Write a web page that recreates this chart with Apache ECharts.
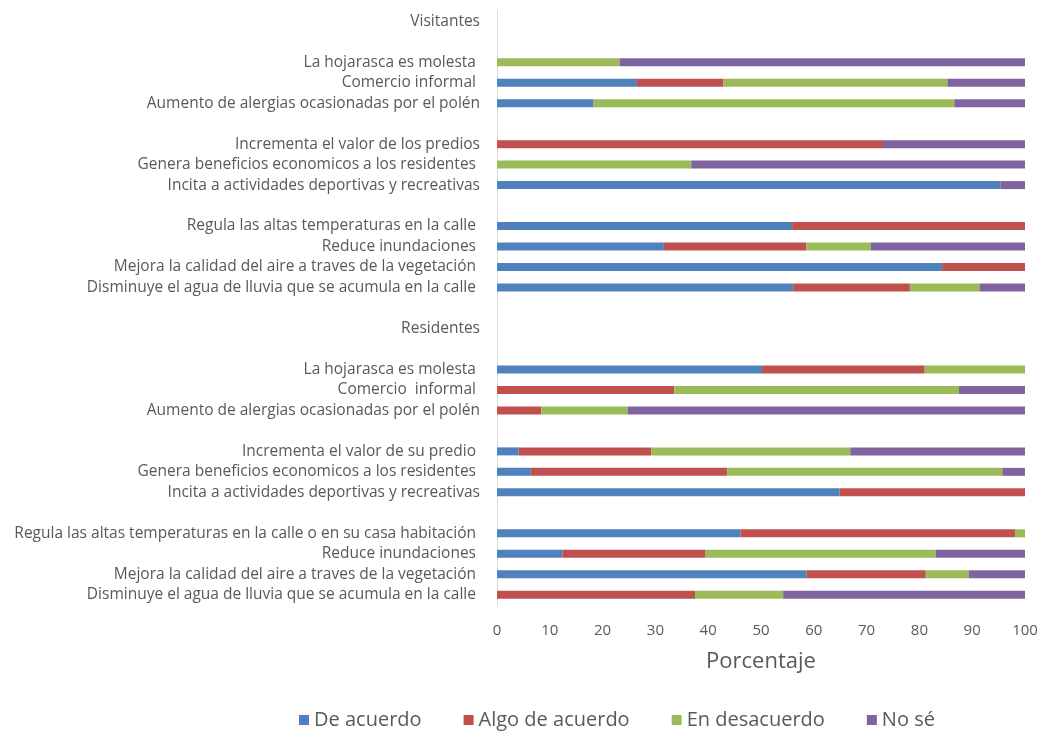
<!DOCTYPE html>
<html><head><meta charset="utf-8">
<script src="https://cdn.jsdelivr.net/npm/echarts@6/dist/echarts.min.js"></script>
<style>html,body{margin:0;padding:0;background:#fff}#c{width:1061px;height:732px}</style>
</head><body><div id="c"></div>
<script>
const categories = [
  'Visitantes', ' ',
  'La hojarasca es molesta ', 'Comercio informal ', 'Aumento de alergias ocasionadas por el polén', '  ',
  'Incrementa el valor de los predios', 'Genera beneficios economicos a los residentes ', 'Incita a actividades deportivas y recreativas', '   ',
  'Regula las altas temperaturas en la calle ', 'Reduce inundaciones ', 'Mejora la calidad del aire a traves de la vegetación ', 'Disminuye el agua de lluvia que se acumula en la calle ', '    ',
  'Residentes', '     ',
  'La hojarasca es molesta ', 'Comercio  informal ', 'Aumento de alergias ocasionadas por el polén', '      ',
  'Incrementa el valor de su predio ', 'Genera beneficios economicos a los residentes ', 'Incita a actividades deportivas y recreativas', '       ',
  'Regula las altas temperaturas en la calle o en su casa habitación ', 'Reduce inundaciones ', 'Mejora la calidad del aire a traves de la vegetación ', 'Disminuye el agua de lluvia que se acumula en la calle '
];
const deAcuerdo = [null, null, 0, 26.5, 18.3, null, 0, 0, 95.4, null, 55.9, 31.6, 84.3, 56.1, null, null, null, 50.2, 0, 0, null, 4.1, 6.4, 64.9, null, 46.1, 12.4, 58.6, 0];
const algoDeAcuerdo = [null, null, 0, 16.4, 0, null, 73.1, 0, 0, null, 44.1, 27.0, 15.7, 22.1, null, null, null, 30.8, 33.6, 8.4, null, 25.1, 37.2, 35.1, null, 52.0, 27.1, 22.6, 37.5];
const enDesacuerdo = [null, null, 23.2, 42.4, 68.3, null, 0, 36.8, 0, null, 0, 12.2, 0, 13.2, null, null, null, 19.0, 53.9, 16.4, null, 37.7, 52.1, 0, null, 1.9, 43.6, 8.1, 16.7];
const noSe = [null, null, 76.8, 14.7, 13.4, null, 26.9, 63.2, 4.6, null, 0, 29.2, 0, 8.6, null, null, null, 0, 12.5, 75.2, null, 33.1, 4.3, 0, null, 0, 16.9, 10.7, 45.8];
const xTicks = [0, 100, 10];
const seriesNames = ['De acuerdo', 'Algo de acuerdo', 'En desacuerdo', 'No sé'];

const colors = ['#4F81BD', '#C0504D', '#9BBB59', '#8064A2'];
const font = '"Open Sans", Lato, sans-serif';
const chart = echarts.init(document.getElementById('c'));
const mk = (name, data, i) => ({
  name, type: 'bar', stack: 'total', data, barWidth: 8,
  itemStyle: { color: colors[i] }, emphasis: { disabled: true }
});
chart.setOption({
  animation: false,
  color: colors,
  textStyle: { fontFamily: font },
  grid: { left: 497, right: 36, top: 11, bottom: 127, containLabel: false },
  legend: {
    left: 294, top: 705, icon: 'rect', itemWidth: 10, itemHeight: 10, itemGap: 42,
    textStyle: { fontSize: 20, color: '#595959', fontFamily: font },
    data: seriesNames
  },
  xAxis: {
    type: 'value', min: xTicks[0], max: xTicks[1], interval: xTicks[2],
    axisLine: { show: false }, axisTick: { show: false }, splitLine: { show: false },
    axisLabel: { fontSize: 15, color: '#595959', margin: 18, fontFamily: font },
    name: 'Porcentaje', nameLocation: 'middle', nameGap: 46,
    nameTextStyle: { fontSize: 22, color: '#595959', fontFamily: font }
  },
  yAxis: {
    type: 'category', inverse: true, data: categories,
    axisLine: { show: true, lineStyle: { color: '#D9D9D9', width: 1 } },
    axisTick: { show: false },
    axisLabel: { interval: 0, fontSize: 15.5, color: '#595959', margin: 17, fontFamily: font }
  },
  series: [
    mk(seriesNames[0], deAcuerdo, 0),
    mk(seriesNames[1], algoDeAcuerdo, 1),
    mk(seriesNames[2], enDesacuerdo, 2),
    mk(seriesNames[3], noSe, 3)
  ]
});
</script></body></html>
